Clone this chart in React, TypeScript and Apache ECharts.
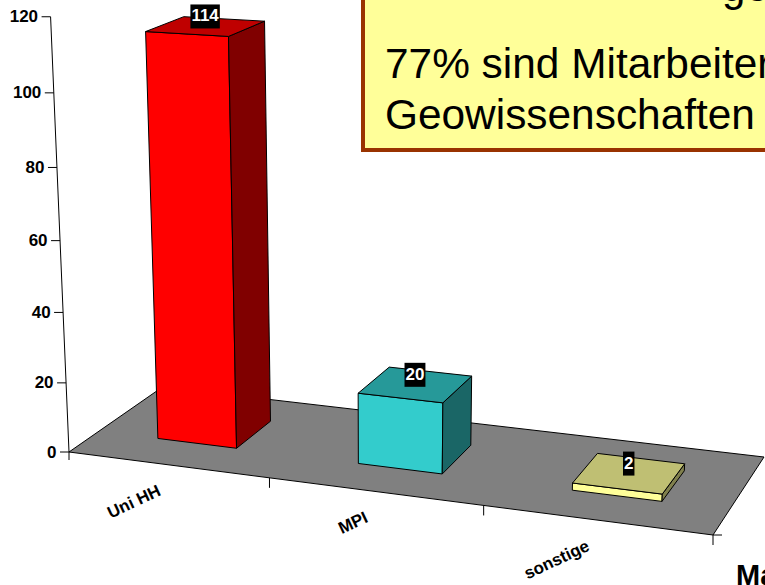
import React, { useEffect, useRef } from "react";
import * as echarts from "echarts";

const categories = ["Uni HH", "MPI", "sonstige"];
const values = [114, 20, 2];
const yTicks = [0, 20, 40, 60, 80, 100, 120];
const frontColors = ["#FF0000", "#33CCCC", "#FFFF99"];
const topColors = ["#BF0000", "#269999", "#BFBF73"];
const sideColors = ["#800000", "#1A6666", "#80804D"];
const noteLines = ["77% sind Mitarbeiter", "Geowissenschaften"];

const FONT = '"Liberation Sans", Arial, sans-serif';
const GRID = { left: 69, top: 17, width: 644, height: 435 };
const Y_MAX = 120;

// Floor plane: perspective mapping of the unit square onto the drawn floor.
const corners = [[69, 452], [713, 535], [764, 457], [162.5, 387]];
const [[x0, y0], [x1, y1], [x2, y2], [x3, y3]] = corners;
const dx1 = x1 - x2, dx2 = x3 - x2, sx = x0 - x1 + x2 - x3;
const dy1 = y1 - y2, dy2 = y3 - y2, sy = y0 - y1 + y2 - y3;
const den = dx1 * dy2 - dx2 * dy1;
const G = (sx * dy2 - dx2 * sy) / den;
const H = (dx1 * sy - sx * dy1) / den;
const A = x1 - x0 + G * x1, B = x3 - x0 + H * x3, C = x0;
const D = y1 - y0 + G * y1, E = y3 - y0 + H * y3, F = y0;
// Vertical vanishing point and height scale.
const VX = 380, VY = 7800, LAMBDA = -0.000466;

function project(t: number, v: number, h: number): number[] {
  const w = 1 + G * t + H * v;
  const m = LAMBDA * h;
  return [(A * t + B * v + C + m * VX) / (w + m), (D * t + E * v + F + m * VY) / (w + m)];
}
const toModel = (api: any, params: any, cat: number, val: number) => {
  const p = api.coord([cat, val]);
  const cs = params.coordSys;
  return [(p[0] - cs.x) / cs.width, ((cs.y + cs.height - p[1]) / cs.height) * Y_MAX];
};

const HALF_W = 0.2 / categories.length;
const BAR_SHIFT = 0.002;
const DEPTH_FRONT = 0.305, DEPTH_BACK = 0.705;

const line = (a: number[], b: number[]) => ({
  type: "line",
  shape: { x1: a[0], y1: a[1], x2: b[0], y2: b[1] },
  style: { stroke: "#000", lineWidth: 1 },
});
const poly = (points: number[][], fill: string, stroke = "#000") => ({
  type: "polygon",
  shape: { points },
  style: { fill, stroke, lineWidth: 1 },
});

export default function App() {
  const ref = useRef<HTMLDivElement>(null);
  useEffect(() => {
    const chart = echarts.init(ref.current!, undefined, { renderer: "svg" });
    chart.setOption({
      animation: false,
      backgroundColor: "#fff",
      grid: { ...GRID },
      xAxis: { type: "category", data: categories, show: false },
      yAxis: { type: "value", min: 0, max: Y_MAX, interval: 20, show: false },
      graphic: [
        {
          type: "rect",
          shape: { x: 363, y: -20, width: 500, height: 170 },
          style: { fill: "#FFFF99", stroke: "#993300", lineWidth: 4 },
        },
        { type: "text", x: 722, y: -14, style: { text: "ge", font: `42px ${FONT}`, fill: "#000", verticalAlign: "middle" } },
        ...noteLines.map((s, i) => ({
          type: "text",
          x: 385,
          y: 63 + i * 51,
          style: { text: s, font: `42.4px ${FONT}`, fill: "#000", verticalAlign: "middle" },
        })),
        { type: "text", x: 736, y: 575, style: { text: "Ma", font: `bold 29px ${FONT}`, fill: "#000", verticalAlign: "middle" } },
      ],
      series: [
        {
          type: "custom",
          silent: true,
          data: [[0, 0]],
          renderItem: () => ({
            type: "group",
            children: [poly([project(0, 0, 0), project(1, 0, 0), project(1, 1, 0), project(0, 1, 0)], "#808080")],
          }),
        },
        {
          type: "custom",
          silent: true,
          data: yTicks.map((v) => [0, v]),
          renderItem: (params: any, api: any) => {
            const [, h] = toModel(api, params, 0, api.value(1));
            const p = project(0, 0, h);
            const children: any[] = [
              line([p[0] - 9, p[1]], p),
              {
                type: "text",
                x: p[0] - 12.5,
                y: p[1],
                style: {
                  text: String(api.value(1)),
                  font: `bold 17px ${FONT}`,
                  fill: "#000",
                  align: "right",
                  verticalAlign: "middle",
                },
              },
            ];
            if (h === 0) {
              children.push(line(project(0, 0, 0), project(0, 0, Y_MAX)));
              children.push(line(p, [p[0], p[1] + 8]));
            }
            return { type: "group", children };
          },
        },
        {
          type: "custom",
          silent: true,
          data: categories.map((_, i) => [i, 0]),
          renderItem: (params: any, api: any) => {
            const i = api.value(0);
            const [tc] = toModel(api, params, i, 0);
            const half = 0.5 / categories.length;
            const edge = project(tc + half, 0, 0);
            const mid = project(tc, 0, 0);
            const children: any[] = [
              line(edge, [edge[0], edge[1] + 10]),
              {
                type: "text",
                x: mid[0] - 8,
                y: mid[1] + 25,
                rotation: (25 * Math.PI) / 180,
                style: {
                  text: categories[i],
                  font: `bold 17px ${FONT}`,
                  fill: "#000",
                  align: "right",
                  verticalAlign: "middle",
                },
              },
            ];
            if (i === categories.length - 1) children.push(line(edge, [edge[0] + 9, edge[1]]));
            return { type: "group", children };
          },
        },
        {
          type: "custom",
          silent: true,
          z: 3,
          data: categories.map((_, i) => [i, values[i]]),
          renderItem: (params: any, api: any) => {
            const i = api.value(0);
            const [tc0, h] = toModel(api, params, i, api.value(1));
            const tc = tc0 + BAR_SHIFT;
            const l = tc - HALF_W, r = tc + HALF_W;
            const fbl = project(l, DEPTH_FRONT, 0), fbr = project(r, DEPTH_FRONT, 0), bbr = project(r, DEPTH_BACK, 0);
            const ftl = project(l, DEPTH_FRONT, h), ftr = project(r, DEPTH_FRONT, h);
            const btr = project(r, DEPTH_BACK, h), btl = project(l, DEPTH_BACK, h);
            const cx = (ftl[0] + ftr[0] + btr[0] + btl[0]) / 4;
            const cy = (ftl[1] + ftr[1] + btr[1] + btl[1]) / 4;
            return {
              type: "group",
              children: [
                poly([fbl, fbr, ftr, ftl], frontColors[i]),
                poly([fbr, bbr, btr, ftr], sideColors[i]),
                poly([ftl, ftr, btr, btl], topColors[i]),
                {
                  type: "text",
                  x: cx - 0.5,
                  y: cy + 2,
                  style: {
                    text: String(api.value(1)),
                    font: `bold 17px ${FONT}`,
                    fill: "#fff",
                    align: "center",
                    verticalAlign: "bottom",
                    backgroundColor: "#000",
                    padding: [3, 1, 4, 1],
                  },
                },
              ],
            };
          },
        },
      ],
    });
    return () => chart.dispose();
  }, []);
  return <div ref={ref} style={{ position: "absolute", left: 0, top: 0, width: 765, height: 585, overflow: "hidden" }} />;
}
